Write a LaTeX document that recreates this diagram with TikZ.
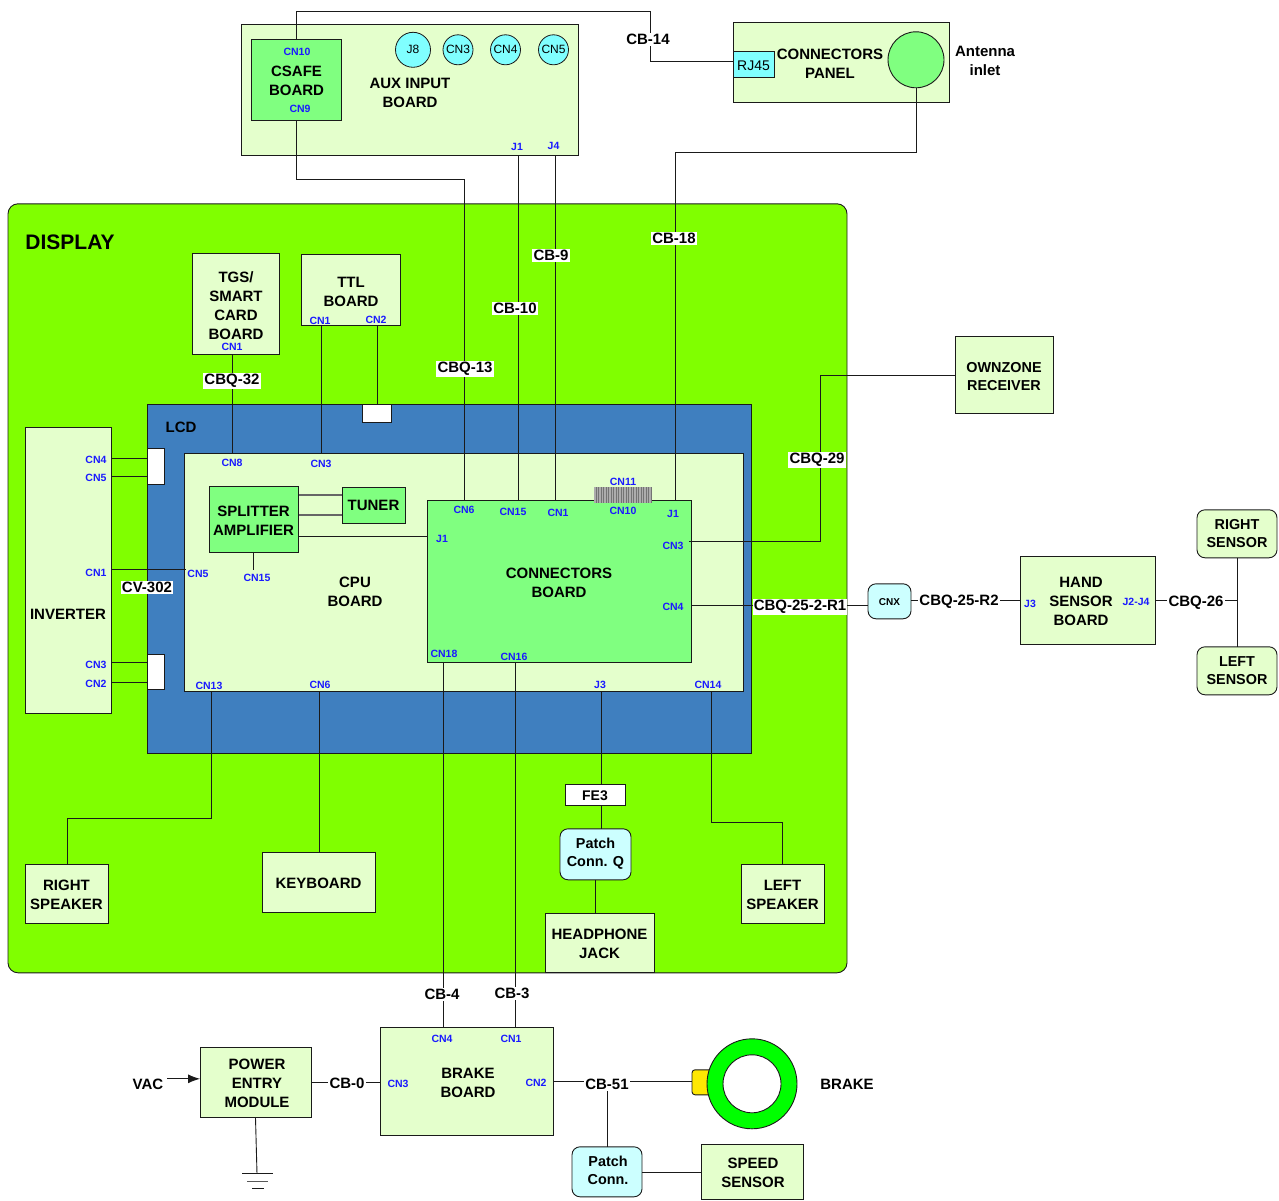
\documentclass[tikz,border=0pt]{standalone}
\usepackage{fontspec}
\setmainfont{Liberation Sans}
\usetikzlibrary{arrows.meta}
\definecolor{dispg}{HTML}{80FF00}
\definecolor{lcdb}{HTML}{3F7FBF}
\definecolor{pale}{HTML}{E4FFCC}
\definecolor{brd}{HTML}{80FF80}
\definecolor{cyn}{HTML}{80FFFF}
\definecolor{pcyn}{HTML}{CCFFFF}
\definecolor{blu}{HTML}{1A1AFF}
\definecolor{lin}{HTML}{1A1A1A}
\tikzset{
 base/.style={draw=lin,line width=0.9pt,inner sep=0pt,outer sep=0pt,font=\fontsize{15}{19}\selectfont\bfseries},
 paleb/.style={base,fill=pale},
 greenb/.style={base,fill=brd},
 smalltext/.style={font=\fontsize{14.4}{18}\selectfont\bfseries},
 patch/.style={base,fill=pcyn,rounded corners=8pt,smalltext},
 whitebox/.style={base,fill=white},
 conn/.style={draw=lin,line width=0.9pt},
 graylink/.style={draw=black!60,line width=1.5pt},
 portc/.style={circle,draw=lin,line width=0.8pt,fill=cyn,inner sep=0pt,font=\fontsize{12}{14}\selectfont},
 cablel/.style={fill=white,inner sep=1.2pt,font=\fontsize{15}{17}\selectfont\bfseries},
 plain/.style={inner sep=0pt,align=center,font=\fontsize{15}{19}\selectfont\bfseries},
 pinl/.style={inner sep=0pt,text=blu,font=\fontsize{10.5}{12}\selectfont\bfseries},
}
\newcommand\dyv{-2.2}
\newcommand\ctext[3]{\makebox[0pt]{\hspace*{#1pt}\raisebox{#2pt}[\height][\depth]{\begin{tabular}{@{}c@{}}#3\end{tabular}}}}
\newcommand\bx[8][0]{\node[#7,minimum width={(#5-#3)*1pt},minimum height={(#6-#4)*1pt}] (#2) at ({(#3+#5)/2},{(#4+#6)/2}) {\ctext{#1}{\dyv}{#8}};}
\newcommand\shp[6]{\node[#6,minimum width={(#4-#2)*1pt},minimum height={(#5-#3)*1pt}] (#1) at ({(#2+#4)/2},{(#3+#5)/2}) {};}
\newcommand\cbl[4]{\node[cablel] (#1) at ({#2},{#3+1.0}) {#4};}
\newcommand\txt[4]{\node[plain] (#1) at ({#2},{#3+0.8}) {#4};}
\newcommand\pin[4]{\node[pinl] (#1) at ({#2},{#3+0.8}) {#4};}
\begin{document}
\begin{tikzpicture}[x=1pt,y=-1pt]
\useasboundingbox (0,0.2) rectangle (1279,1201.2);
% containers
\shp{display}{8}{204}{847}{973}{base,fill=dispg,rounded corners=10pt}
\shp{lcd}{147}{405}{751}{754}{base,fill=lcdb}
\shp{cpu}{184}{454}{743}{692}{paleb}
\shp{aux}{241}{25}{578}{156}{paleb}
\shp{panel}{733}{23}{949}{103}{paleb}
% boards
\bx[1]{csafe}{251}{40}{341}{121}{greenb}{CSAFE\\BOARD}
{\renewcommand\dyv{-3}\bx{rj}{733}{52}{774}{78}{base,fill=cyn,font=\fontsize{14}{16}\selectfont}{RJ45}}
\node[circle,draw=lin,line width=0.9pt,fill=brd,minimum size=56pt,inner sep=0pt] (ant) at (916,60) {};
\node[portc,minimum size=35pt] (j8) at (413,50) {J8};
\node[portc,minimum size=30pt] (auxcn3) at (458,50) {CN3};
\node[portc,minimum size=30pt] (auxcn4) at (505.5,50) {CN4};
\node[portc,minimum size=30pt] (auxcn5) at (553.5,50) {CN5};
\shp{tgs}{192}{254}{279}{355}{paleb}
\shp{ttl}{301}{255}{400}{326}{paleb}
\bx{own}{955}{337}{1053}{414}{paleb,smalltext}{OWNZONE\\RECEIVER}
\shp{inv}{25}{428}{111}{714}{paleb}
\shp{invt}{147}{449}{164}{485}{whitebox}
\shp{invb}{147}{655}{164}{690}{whitebox}
\shp{ttlw}{362}{405}{391}{423}{whitebox}
\bx{split}{209}{487}{298}{553}{greenb}{SPLITTER\\AMPLIFIER}
{\renewcommand\dyv{-1.2}\bx{tuner}{342}{488}{405}{524}{greenb}{TUNER}}
\bx{cb}{427}{501}{691}{663}{greenb}{CONNECTORS\\BOARD}
\shp{cn10}{594}{487}{652}{503}{base,draw=none,fill=gray!65}
\foreach \xx in {596,598.5,...,652} {\draw[black!55,line width=0.6pt] (\xx,487.5) -- (\xx,503);}
\bx[-13]{hand}{1020}{557}{1155}{645}{paleb}{HAND\\SENSOR\\BOARD}
{\renewcommand\dyv{-1.2}
\bx{rsens}{1197}{510}{1277}{558}{paleb,rounded corners=8pt,smalltext}{RIGHT\\SENSOR}
\bx{lsens}{1197}{647}{1277}{695}{paleb,rounded corners=8pt,smalltext}{LEFT\\SENSOR}}
\bx{cnx}{868}{584}{911}{619}{base,fill=pcyn,rounded corners=8pt,font=\fontsize{10}{12}\selectfont\bfseries}{CNX}
\bx{rspk}{25}{865}{108}{924}{paleb}{RIGHT\\SPEAKER}
\bx{key}{262}{853}{375}{913}{paleb}{KEYBOARD}
\bx{fe}{565}{785}{625}{806}{whitebox,font=\fontsize{14}{16}\selectfont\bfseries}{FE3}
{\renewcommand\dyv{0.4}
\bx{pq}{560}{829}{631}{880}{patch}{Patch\\Conn. Q}
\bx[2]{pc}{572}{1147}{642}{1197}{patch}{Patch\\Conn.}}
\bx{head}{545}{914}{654}{973}{paleb}{HEADPHONE\\JACK}
\bx{lspk}{741}{865}{824}{924}{paleb}{LEFT\\SPEAKER}
\bx[3]{brake}{380}{1028}{553}{1136}{paleb}{BRAKE\\BOARD}
\bx[3]{power}{200}{1048}{311}{1118}{paleb}{POWER\\ENTRY\\MODULE}
\bx[2]{speed}{701}{1145}{803}{1200}{paleb}{SPEED\\SENSOR}
\shp{yel}{692}{1070}{712}{1095}{base,fill=yellow!90!orange,rounded corners=3pt}
\node[circle,draw=lin,line width=0.9pt,fill=green,minimum size=90pt,inner sep=0pt] (ringo) at (752,1084) {};
\node[circle,draw=lin,line width=0.9pt,fill=white,minimum size=58pt,inner sep=0pt] (ringi) at (752,1084) {};
% port coordinates
\coordinate (b1) at (464,180);
\coordinate (pcn6) at (464,501);
\coordinate (pcn15) at (518,501);
\coordinate (pcn1) at (555.5,501);
\coordinate (pj1) at (675,501);
\coordinate (t1) at (296,12);
\coordinate (t2) at (650,12);
\coordinate (t3) at (650,62);
\coordinate (a1) at (675,153);
\coordinate (pcn8) at (232,454);
\coordinate (pcn3) at (321.5,454);
\coordinate (p2) at (377,326);
\coordinate (sj1) at (298,537);
\coordinate (tu1) at (299,495);
\coordinate (tu2) at (299,515);
\coordinate (pc3) at (689,542);
\coordinate (o1) at (820,542);
\coordinate (o2) at (820,376);
\coordinate (pc4) at (691,606);
\coordinate (h1) at (911,601);
\coordinate (sv) at (1237,601);
\coordinate (c5) at (186,570);
\coordinate (i1) at (147,459);\coordinate (i2) at (147,477);\coordinate (i3) at (147,663);\coordinate (i4) at (147,683);
\coordinate (q13) at (211,692);\coordinate (q13b) at (211,819);\coordinate (q13c) at (67,819);
\coordinate (k6) at (319,692);
\coordinate (j3) at (601,692);
\coordinate (q14) at (711,692);\coordinate (q14b) at (711,823);\coordinate (q14c) at (782,823);
\coordinate (c18) at (443,663);\coordinate (c16) at (515,663);
\coordinate (g1) at (257,1174);
\coordinate (g1l) at (242,1174);\coordinate (g1r) at (273,1174);
\coordinate (g2l) at (247,1182);\coordinate (g2r) at (268,1182);
\coordinate (g3l) at (252,1189);\coordinate (g3r) at (264,1189);
\coordinate (vac) at (167,1079);
\coordinate (br) at (553,1082);
\coordinate (st) at (607,1082);
\coordinate (sp15) at (253.5,570);
% connectors
\draw[conn] (csafe.south) |- (b1) -- (pcn6);
\draw[conn] (csafe.north) -- (t1) -- (t2) -- (t3) -- (rj.west |- t3);
\draw[conn] (aux.south -| pcn15) -- (pcn15);
\draw[conn] (aux.south -| pcn1) -- (pcn1);
\draw[conn] (ant.south) |- (a1) -- (pj1);
\draw[conn] (tgs.south -| pcn8) -- (pcn8);
\draw[conn] (ttl.south -| pcn3) -- (pcn3);
\draw[conn] (p2) -- (ttlw.north -| p2);
\draw[graylink] (tu1) -- (tuner.west |- tu1);
\draw[graylink] (tu2) -- (tuner.west |- tu2);
\draw[conn] (sj1) -- (cb.west |- sj1);
\draw[conn] (split.south -| sp15) -- (sp15);
\draw[conn] (pc3) -- (o1) -- (o2) -- (own.west |- o2);
\draw[conn] (pc4) -- (cnx.west |- pc4);
\draw[conn] (h1) -- (hand.west |- h1);
\draw[conn] (hand.east |- sv) -- (sv);
\draw[conn] (rsens.south -| sv) -- (lsens.north -| sv);
\draw[conn] (inv.east |- i1) -- (i1);
\draw[conn] (inv.east |- i2) -- (i2);
\draw[conn] (inv.east |- c5) -- (c5);
\draw[conn] (inv.east |- i3) -- (i3);
\draw[conn] (inv.east |- i4) -- (i4);
\draw[conn] (q13) -- (q13b) -- (q13c) -- (rspk.north -| q13c);
\draw[conn] (k6) -- (key.north -| k6);
\draw[conn] (j3) -- (fe.north -| j3);
\draw[conn] (fe.south -| j3) -- (pq.north -| j3);
\draw[conn] (pq.south) -- (head.north -| pq.south);
\draw[conn] (q14) -- (q14b) -- (q14c) -- (lspk.north -| q14c);
\draw[conn] (c18) -- (brake.north -| c18);
\draw[conn] (c16) -- (brake.north -| c16);
\draw[conn] (power.east) -- (brake.west |- power.east);
\draw[conn,-{Latex[length=12pt,width=9pt]}] (vac) -- (power.west |- vac);
\draw[conn] (power.south) -- (g1);
\draw[conn] (g1l) -- (g1r);
\draw[conn,gray!70!black] (g2l) -- (g2r);
\draw[conn] (g3l) -- (g3r);
\draw[conn] (br) -- (yel.west |- br);
\draw[conn] (st) -- (pc.north -| st);
\draw[conn] (pc.east |- speed.west) -- (speed.west);
% cable labels
\cbl{l14}{648}{39}{CB-14}
\cbl{l18}{674}{238}{CB-18}
\cbl{l9}{551}{255}{CB-9}
\cbl{l10}{515}{308}{CB-10}
\cbl{l13}{465}{368}{CBQ-13}
\cbl{l32}{232}{380}{CBQ-32}
\cbl{l29}{817}{459}{CBQ-29}
\cbl{l302}{147}{587}{CV-302}
\cbl{l25a}{800}{606}{CBQ-25-2-R1}
\cbl{l25b}{959}{601}{CBQ-25-R2}
\cbl{l26}{1196}{602}{CBQ-26}
\cbl{l4}{442}{994}{CB-4}
\cbl{l3}{512}{993}{CB-3}
\cbl{l0}{347}{1083}{CB-0}
\cbl{l51}{607}{1084}{CB-51}
% plain texts
\txt{tdisp}{70}{242}{\fontsize{21}{23}\selectfont DISPLAY}
\txt{tlcd}{181}{427}{LCD}
\txt{tinv}{68}{614}{INVERTER}
\txt{ttgs}{236}{305}{TGS/\\SMART\\CARD\\BOARD}
\txt{tttl}{351}{291}{TTL\\BOARD}
\txt{taux}{410}{92}{AUX INPUT\\BOARD}
\txt{tpanel}{830}{63}{CONNECTORS\\PANEL}
\txt{tant}{985}{60}{Antenna\\inlet}
\txt{tcpu}{355}{591}{CPU\\BOARD}
\txt{tvac}{148}{1084}{VAC}
\txt{tbrake}{847}{1084}{BRAKE}
% pin labels
\pin{a10}{297}{51}{CN10}
\pin{a9}{300}{108}{CN9}
\pin{aj1}{517}{146}{J1}
\pin{aj4}{553.5}{145}{J4}
\pin{tgc}{232}{346}{CN1}
\pin{ttc1}{320}{320}{CN1}
\pin{ttc2}{376}{319}{CN2}
\pin{cc8}{232}{462}{CN8}
\pin{cc3}{321}{463}{CN3}
\pin{cc15}{257}{577}{CN15}
\pin{cc5}{198}{573}{CN5}
\pin{cbj}{442}{538}{J1}
\pin{cb6}{464}{509}{CN6}
\pin{cb15}{513}{511}{CN15}
\pin{cb1}{558}{512}{CN1}
\pin{cb11}{623}{481}{CN11}
\pin{cb10}{623}{510}{CN10}
\pin{cbj1}{673}{513}{J1}
\pin{cb3}{673}{545}{CN3}
\pin{cb4}{673}{606}{CN4}
\pin{cb18}{444}{653}{CN18}
\pin{cb16}{514}{656}{CN16}
\pin{cj3}{600}{684}{J3}
\pin{c14}{708}{684}{CN14}
\pin{c13}{209}{685}{CN13}
\pin{c6}{320}{684}{CN6}
\pin{iv4}{96}{459}{CN4}
\pin{iv5}{96}{477}{CN5}
\pin{iv1}{96}{572}{CN1}
\pin{iv3}{96}{664}{CN3}
\pin{iv2}{96}{683}{CN2}
\pin{hj3}{1030}{603}{J3}
\pin{hj2}{1136}{601}{J2-J4}
\pin{bc4}{442}{1038}{CN4}
\pin{bc1}{511}{1038}{CN1}
\pin{bc3}{398}{1083}{CN3}
\pin{bc2}{536}{1082}{CN2}
\end{tikzpicture}
\end{document}
